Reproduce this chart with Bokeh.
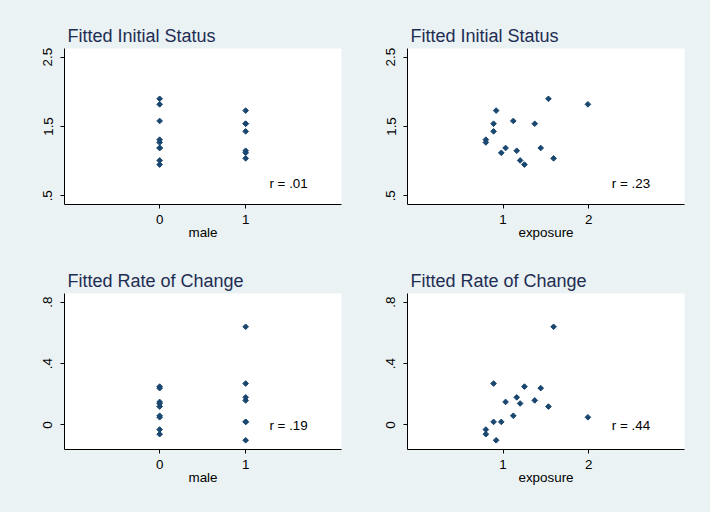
import math
from bokeh.plotting import figure
from bokeh.layouts import gridplot
from bokeh.models import Range1d, FixedTicker, Label, ColumnDataSource
from bokeh.embed import file_html
from bokeh.resources import INLINE

# ---- data (one entry per subject) ----
male = [0, 0, 1, 0, 1, 1, 1, 0, 0, 0, 0, 1, 1, 1, 0, 0]
exposure = [1.53, 1.99, 0.92, 1.12, 0.89, 1.37, 0.89, 0.80, 0.80, 1.03, 1.44, 1.16, 0.98, 1.59, 1.20, 1.25]
initial_status = [1.90, 1.82, 1.73, 1.58, 1.54, 1.54, 1.43, 1.31, 1.27, 1.19, 1.19, 1.15, 1.12, 1.04, 1.01, 0.95]
rate_of_change = [0.12, 0.05, -0.10, 0.06, 0.27, 0.16, 0.02, -0.03, -0.06, 0.15, 0.24, 0.18, 0.02, 0.64, 0.14, 0.25]

male_ticks = [0, 1]
male_tick_labels = ["0", "1"]
exposure_ticks = [1, 2]
exposure_tick_labels = ["1", "2"]
initial_ticks = [0.5, 1.5, 2.5]
initial_tick_labels = [".5", "1.5", "2.5"]
rate_ticks = [0, 0.4, 0.8]
rate_tick_labels = ["0", ".4", ".8"]

r_texts = ["r = .01", "r = .23", "r = .19", "r = .44"]
titles = ["Fitted Initial Status", "Fitted Initial Status", "Fitted Rate of Change", "Fitted Rate of Change"]

BG = "#EAF2F3"
MARK = "#1A476F"
TITLE_C = "#1E2D53"
FONT = "Liberation Sans"

male_range = (-1.106, 2.114)
exposure_range = (-0.114, 3.117)
initial_range = (0.374, 2.626)
rate_range = (-0.160, 0.857)


def panel(xs, ys, xr, yr, xt, xtl, yt, ytl, title, xlabel, rtext, rx, ry,
          width, height, mbl, mbr, mbt, mbb):
    p = figure(width=width, height=height, x_range=Range1d(*xr), y_range=Range1d(*yr),
               output_backend="svg", toolbar_location=None, title=title,
               min_border_left=mbl, min_border_right=mbr, min_border_top=mbt, min_border_bottom=mbb)
    p.border_fill_color = BG
    p.background_fill_color = "white"
    p.outline_line_color = None
    p.grid.visible = False
    p.title.text_font = FONT
    p.title.text_font_size = "18px"
    p.title.text_font_style = "normal"
    p.title.text_color = TITLE_C
    p.title.align = "left"
    p.title.offset = 3
    p.title.standoff = 5

    src = ColumnDataSource(dict(x=xs, y=ys))
    p.scatter("x", "y", source=src, marker="square", angle=math.pi / 4, size=4.0,
              fill_color=MARK, line_color=MARK, line_width=1)

    for ax in (p.xaxis[0], p.yaxis[0]):
        ax.axis_line_color = "black"
        ax.axis_line_width = 1
        ax.major_tick_line_color = "black"
        ax.major_tick_out = 4
        ax.major_tick_in = 0
        ax.minor_tick_line_color = None
        ax.major_label_text_font = FONT
        ax.major_label_text_font_size = "13.4px"
        ax.major_label_text_color = "black"
        ax.axis_label_text_font = FONT
        ax.axis_label_text_font_size = "13.4px"
        ax.axis_label_text_font_style = "normal"
        ax.axis_label_text_color = "black"

    p.xaxis.ticker = FixedTicker(ticks=xt)
    p.xaxis.major_label_overrides = {t: l for t, l in zip(xt, xtl)}
    p.xaxis.major_label_standoff = 6
    p.xaxis.axis_label = xlabel
    p.xaxis.axis_label_standoff = -2
    p.yaxis.ticker = FixedTicker(ticks=yt)
    p.yaxis.major_label_overrides = {t: l for t, l in zip(yt, ytl)}
    p.yaxis.major_label_orientation = "vertical"
    p.yaxis.major_label_standoff = 8

    p.add_layout(Label(x=rx, y=ry, text=rtext, text_align="left", text_baseline="middle",
                       text_font=FONT, text_font_size="13.4px", text_color="black"))
    return p


LW, RW = 343, 367
TH, BH = 248, 264

p1 = panel(male, initial_status, male_range, initial_range, male_ticks, male_tick_labels,
           initial_ticks, initial_tick_labels, titles[0], "male", r_texts[0], 1.276, 0.68,
           LW, TH, 64, 2, 48, 44)
p2 = panel(exposure, initial_status, exposure_range, initial_range, exposure_ticks, exposure_tick_labels,
           initial_ticks, initial_tick_labels, titles[1], "exposure", r_texts[1], 2.269, 0.68,
           RW, TH, 64, 26, 48, 44)
p3 = panel(male, rate_of_change, male_range, rate_range, male_ticks, male_tick_labels,
           rate_ticks, rate_tick_labels, titles[2], "male", r_texts[2], 1.276, -0.006,
           LW, BH, 64, 2, 45, 63)
p4 = panel(exposure, rate_of_change, exposure_range, rate_range, exposure_ticks, exposure_tick_labels,
           rate_ticks, rate_tick_labels, titles[3], "exposure", r_texts[3], 2.269, -0.006,
           RW, BH, 64, 26, 45, 63)

grid = gridplot([[p1, p2], [p3, p4]], toolbar_location=None)
grid.styles = {"background-color": BG}

open("out.html", "w").write(file_html(grid, INLINE))
